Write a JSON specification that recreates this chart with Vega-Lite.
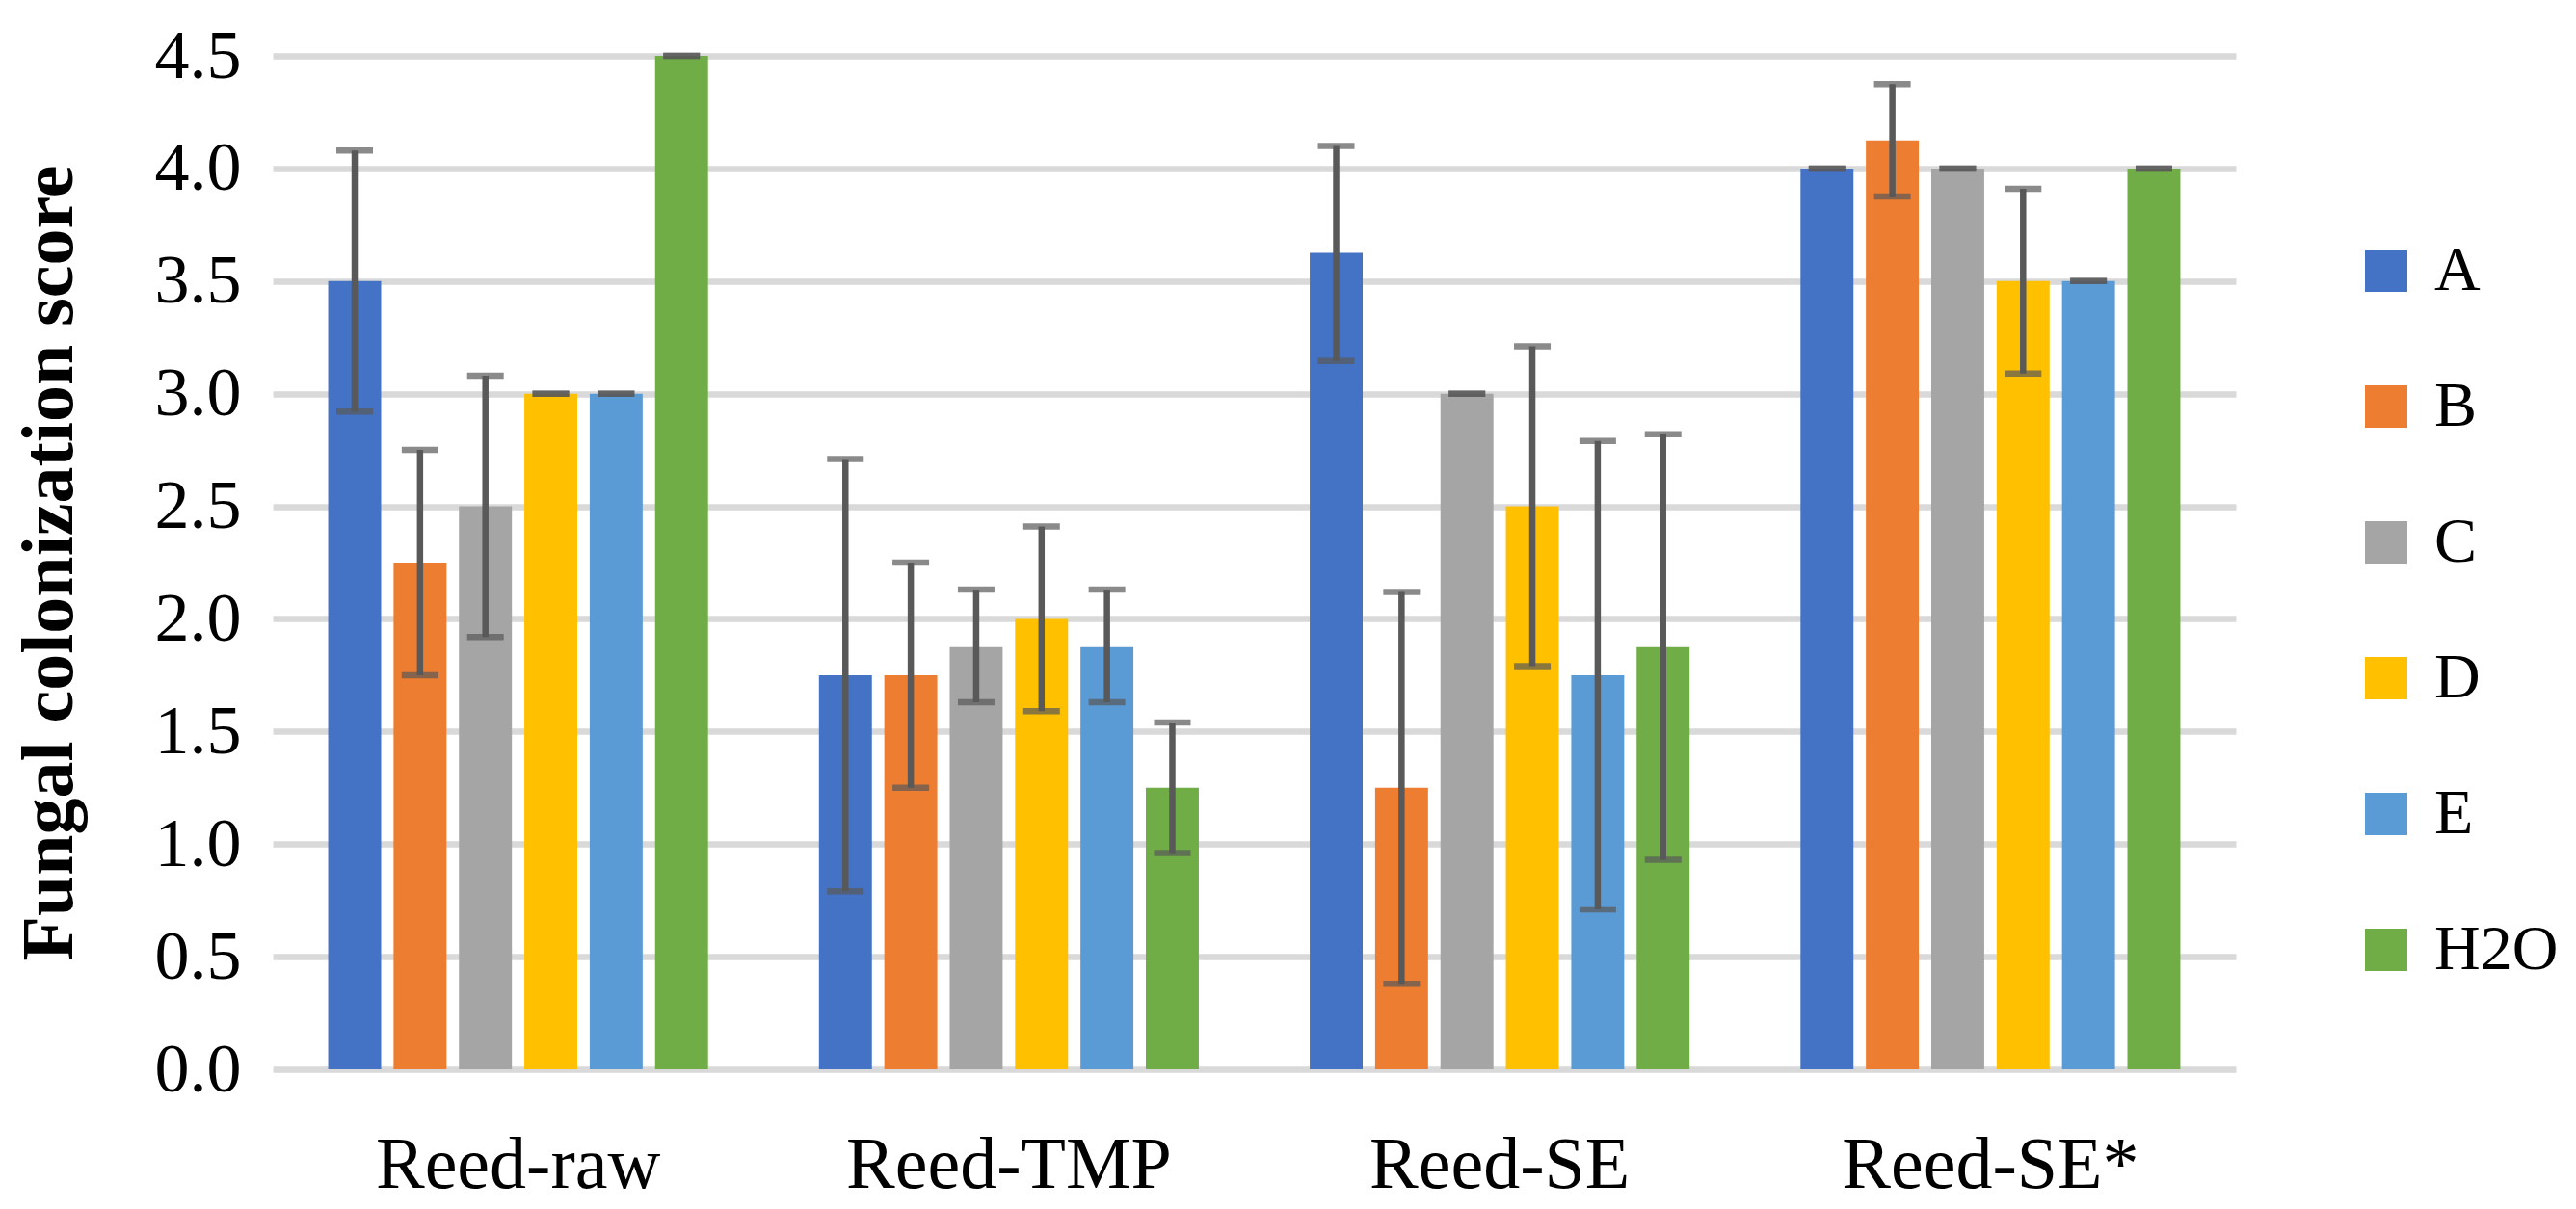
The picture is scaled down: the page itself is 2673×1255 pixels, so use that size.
{
  "$schema": "https://vega.github.io/schema/vega-lite/v6.json",
  "width": 2037,
  "height": 1052,
  "autosize": {"type": "none"},
  "padding": {"left": 283, "top": 58, "right": 353, "bottom": 145},
  "background": "white",
  "config": {
    "view": {"stroke": null},
    "font": "Liberation Serif",
    "axis": {"labelFont": "Liberation Serif", "titleFont": "Liberation Serif"},
    "legend": {"labelFont": "Liberation Serif"}
  },
  "data": {
    "values": [
      {"group": "Reed-raw", "series": "A", "value": 3.5, "lo": 2.92, "hi": 4.08},
      {"group": "Reed-raw", "series": "B", "value": 2.25, "lo": 1.75, "hi": 2.75},
      {"group": "Reed-raw", "series": "C", "value": 2.5, "lo": 1.92, "hi": 3.08},
      {"group": "Reed-raw", "series": "D", "value": 3.0, "lo": 3.0, "hi": 3.0},
      {"group": "Reed-raw", "series": "E", "value": 3.0, "lo": 3.0, "hi": 3.0},
      {"group": "Reed-raw", "series": "H2O", "value": 4.5, "lo": 4.5, "hi": 4.5},
      {"group": "Reed-TMP", "series": "A", "value": 1.75, "lo": 0.79, "hi": 2.71},
      {"group": "Reed-TMP", "series": "B", "value": 1.75, "lo": 1.25, "hi": 2.25},
      {"group": "Reed-TMP", "series": "C", "value": 1.875, "lo": 1.63, "hi": 2.13},
      {"group": "Reed-TMP", "series": "D", "value": 2.0, "lo": 1.59, "hi": 2.41},
      {"group": "Reed-TMP", "series": "E", "value": 1.875, "lo": 1.63, "hi": 2.13},
      {"group": "Reed-TMP", "series": "H2O", "value": 1.25, "lo": 0.96, "hi": 1.54},
      {"group": "Reed-SE", "series": "A", "value": 3.625, "lo": 3.145, "hi": 4.1},
      {"group": "Reed-SE", "series": "B", "value": 1.25, "lo": 0.38, "hi": 2.12},
      {"group": "Reed-SE", "series": "C", "value": 3.0, "lo": 3.0, "hi": 3.0},
      {"group": "Reed-SE", "series": "D", "value": 2.5, "lo": 1.79, "hi": 3.21},
      {"group": "Reed-SE", "series": "E", "value": 1.75, "lo": 0.71, "hi": 2.79},
      {"group": "Reed-SE", "series": "H2O", "value": 1.875, "lo": 0.93, "hi": 2.82},
      {"group": "Reed-SE*", "series": "A", "value": 4.0, "lo": 4.0, "hi": 4.0},
      {"group": "Reed-SE*", "series": "B", "value": 4.125, "lo": 3.875, "hi": 4.375},
      {"group": "Reed-SE*", "series": "C", "value": 4.0, "lo": 4.0, "hi": 4.0},
      {"group": "Reed-SE*", "series": "D", "value": 3.5, "lo": 3.09, "hi": 3.91},
      {"group": "Reed-SE*", "series": "E", "value": 3.5, "lo": 3.5, "hi": 3.5},
      {"group": "Reed-SE*", "series": "H2O", "value": 4.0, "lo": 4.0, "hi": 4.0}
    ]
  },
  "encoding": {
    "x": {
      "field": "group",
      "type": "nominal",
      "sort": ["Reed-raw", "Reed-TMP", "Reed-SE", "Reed-SE*"],
      "scale": {"paddingInner": 0.226, "paddingOuter": 0.113},
      "axis": {
        "title": null,
        "labelAngle": 0,
        "labelFontSize": 76,
        "labelColor": "#000000",
        "labelPadding": 62,
        "labelLimit": 800,
        "ticks": false,
        "domain": false,
        "grid": false
      }
    },
    "xOffset": {
      "field": "series",
      "type": "nominal",
      "sort": ["A", "B", "C", "D", "E", "H2O"],
      "scale": {"paddingInner": 0.19, "paddingOuter": 0}
    }
  },
  "layer": [
    {
      "mark": {"type": "bar"},
      "encoding": {
        "y": {
          "field": "value",
          "type": "quantitative",
          "scale": {"domain": [0, 4.5], "nice": false},
          "axis": {
            "title": "Fungal colonization score",
            "titleFontSize": 76,
            "titleFontWeight": "bold",
            "titleColor": "#000000",
            "titlePadding": 70,
            "values": [0, 0.5, 1, 1.5, 2, 2.5, 3, 3.5, 4, 4.5],
            "format": ".1f",
            "labelFontSize": 72,
            "labelColor": "#000000",
            "labelPadding": 33,
            "ticks": false,
            "domain": false,
            "grid": true,
            "gridColor": "#d9d9d9",
            "gridWidth": 6.5
          }
        },
        "color": {
          "field": "series",
          "type": "nominal",
          "sort": ["A", "B", "C", "D", "E", "H2O"],
          "scale": {
            "domain": ["A", "B", "C", "D", "E", "H2O"],
            "range": ["#4472C4", "#ED7D31", "#A5A5A5", "#FFC000", "#5B9BD5", "#70AD47"]
          },
          "legend": {
            "title": null,
            "orient": "none",
            "legendX": 2160,
            "legendY": 190,
            "padding": 0,
            "symbolType": "square",
            "symbolSize": 1936,
            "symbolStrokeWidth": 0,
            "labelFontSize": 66,
            "labelColor": "#000000",
            "labelOffset": 17,
            "rowPadding": 75,
            "labelLimit": 400
          }
        }
      }
    },
    {
      "mark": {"type": "rule", "color": "#595959", "strokeWidth": 6.5},
      "encoding": {
        "y": {"field": "lo", "type": "quantitative"},
        "y2": {"field": "hi"}
      }
    },
    {
      "mark": {"type": "tick", "color": "#595959", "thickness": 6.5, "size": 38},
      "encoding": {"y": {"field": "lo", "type": "quantitative"}}
    },
    {
      "mark": {"type": "tick", "color": "#595959", "thickness": 6.5, "size": 38},
      "encoding": {"y": {"field": "hi", "type": "quantitative"}}
    }
  ]
}
